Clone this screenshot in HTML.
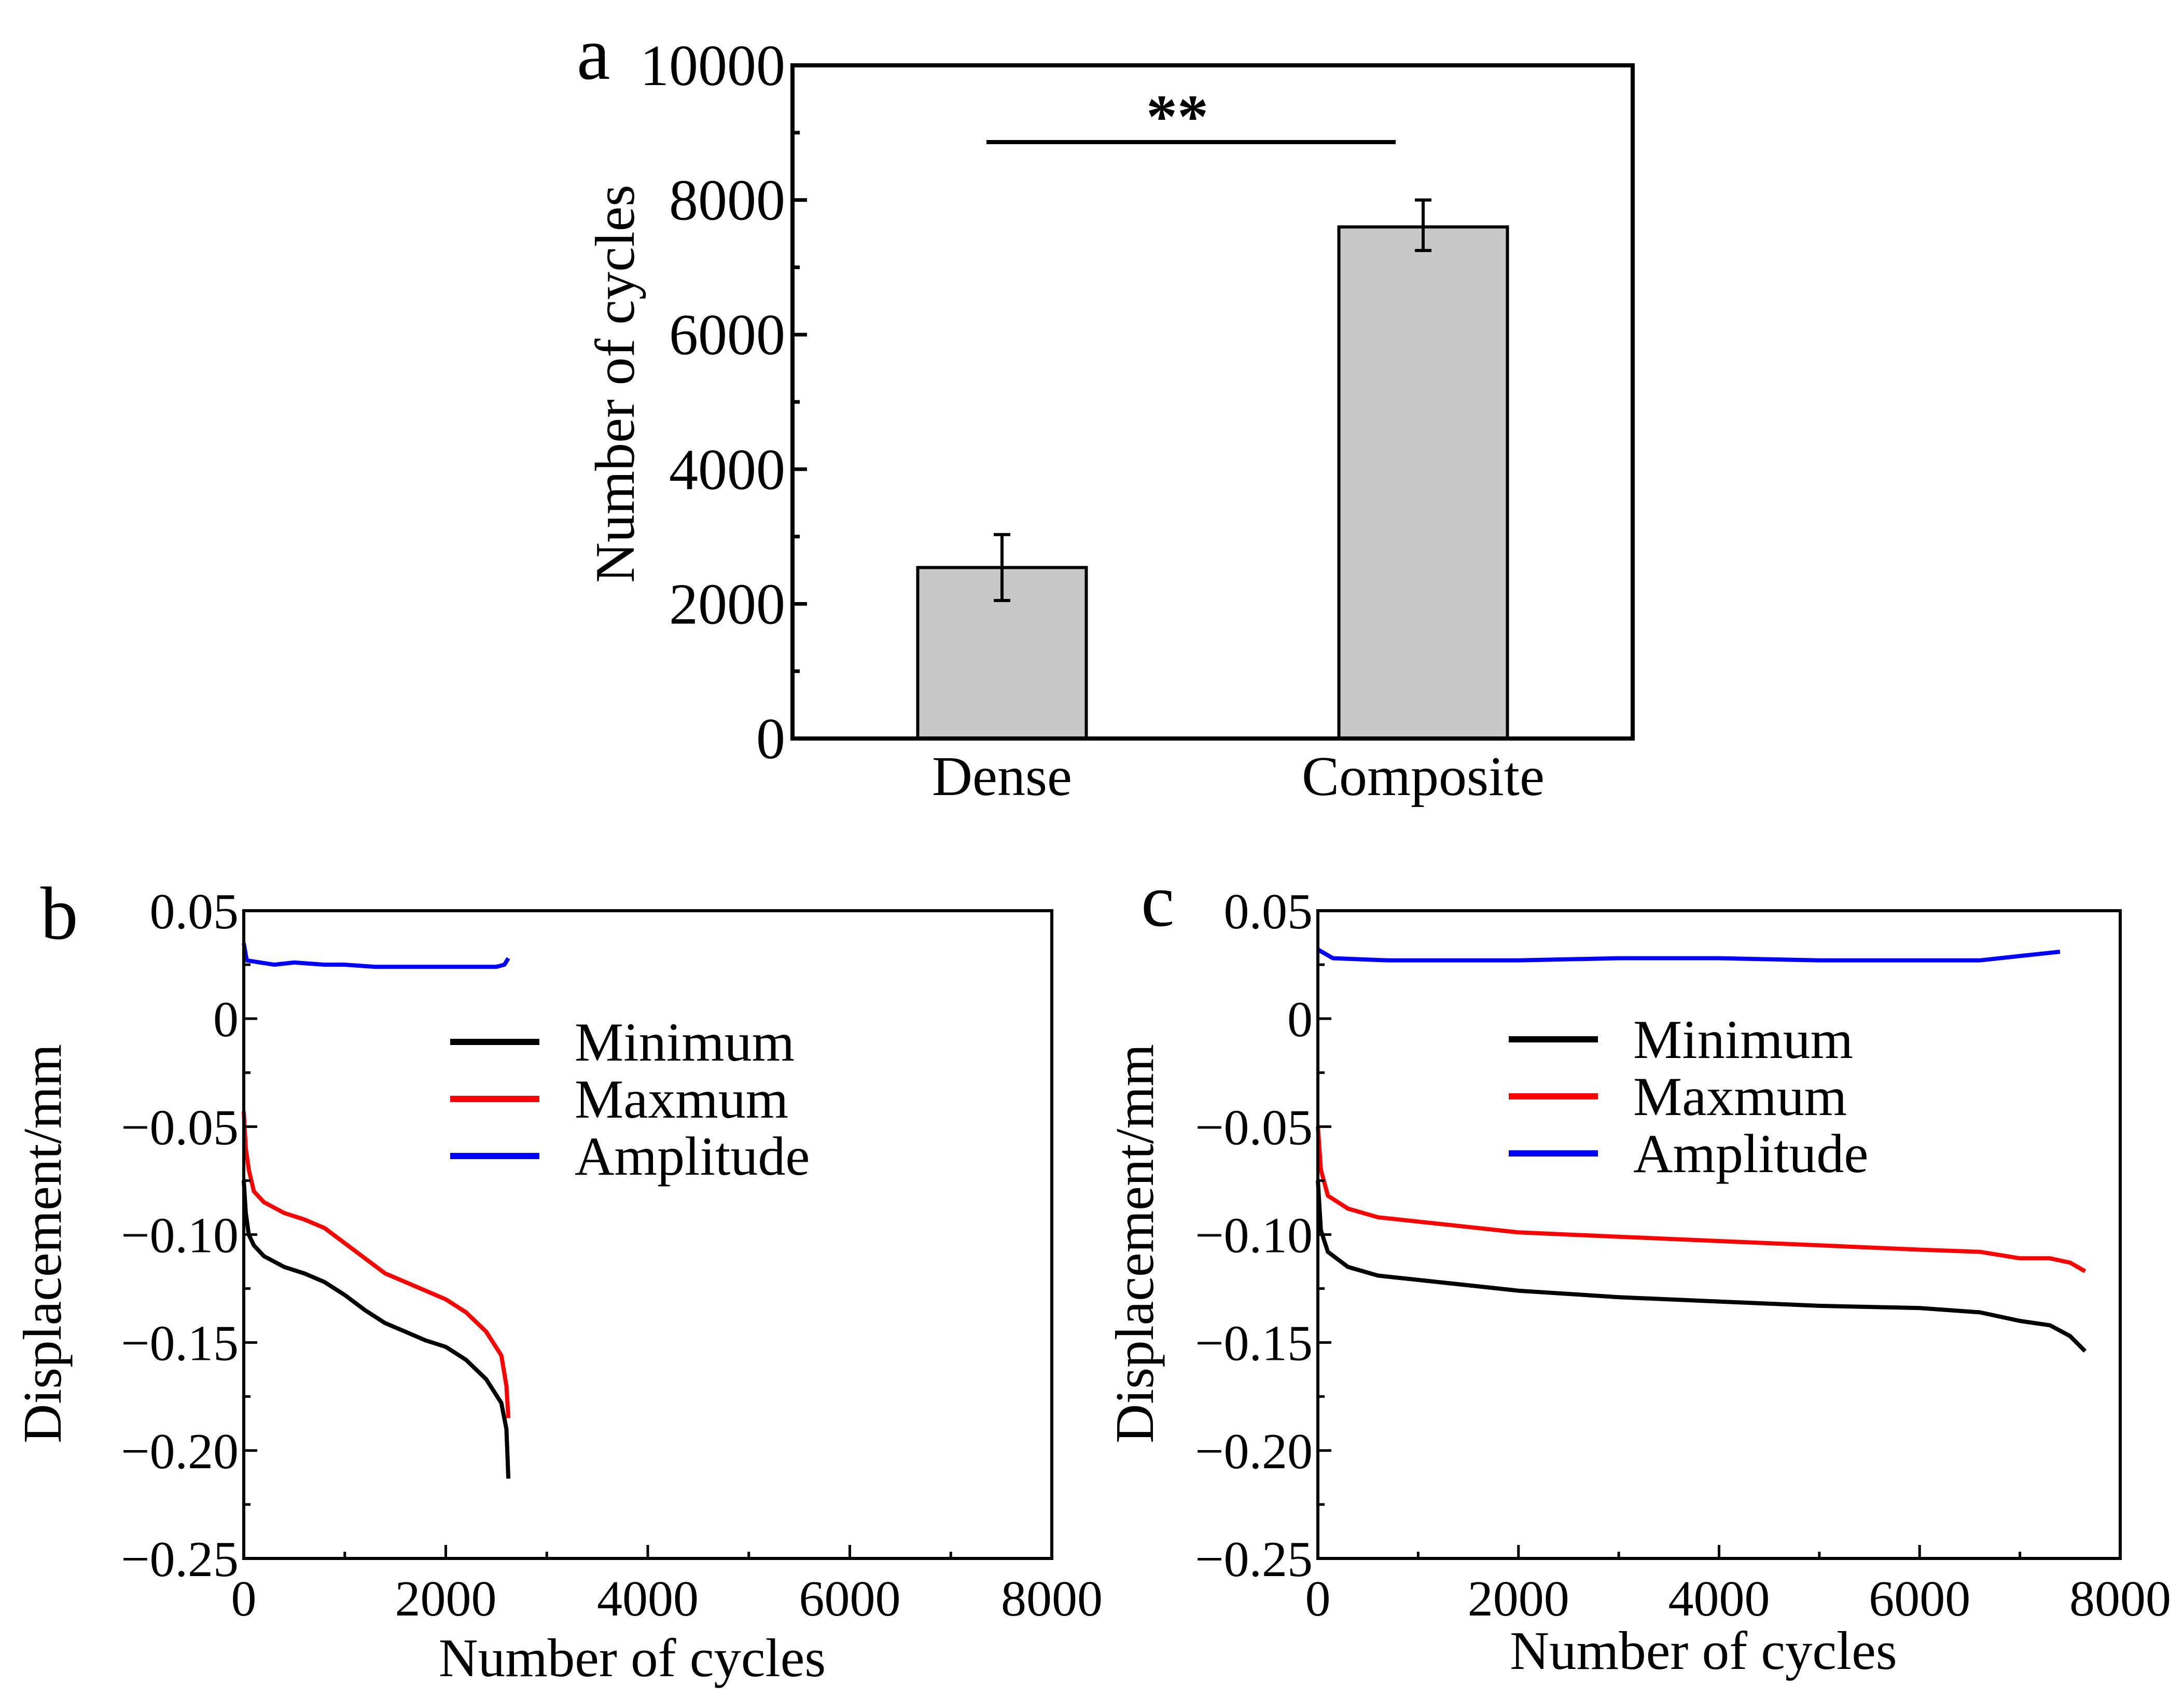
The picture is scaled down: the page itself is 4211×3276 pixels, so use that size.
<!DOCTYPE html>
<html><head><meta charset="utf-8">
<style>
html,body{margin:0;padding:0;background:#fff;}
svg{display:block;}
text{font-family:"Liberation Serif",serif;fill:#000;}
</style></head>
<body>
<svg id="fig" width="4211" height="3276" viewBox="0 0 4211 3276" xmlns="http://www.w3.org/2000/svg">
<rect width="4211" height="3276" fill="#fff"/>
<g id="pa"></g>
<g id="pb"></g>
<g id="pc"></g>
</svg>
<script>
// Panel a data
const barCategories = ["Dense", "Composite"];
const barValues = [2540, 7600];
const barErrLow = [2050, 7250];
const barErrHigh = [3030, 8000];
const aTicks = [0, 2000, 4000, 6000, 8000, 10000];

// Panel b data (cycles, displacement)
const bMinX = [0, 20, 50, 100, 200, 400, 600, 800, 1000, 1200, 1400, 1600, 1800, 2000, 2200, 2400, 2550, 2600, 2620];
const bMinY = [-0.075, -0.09, -0.1, -0.105, -0.11, -0.115, -0.118, -0.122, -0.128, -0.135, -0.141, -0.145, -0.149, -0.152, -0.158, -0.167, -0.178, -0.19, -0.213];
const bMaxX = [0, 20, 50, 100, 200, 400, 600, 800, 1000, 1200, 1400, 1600, 1800, 2000, 2200, 2400, 2550, 2600, 2620];
const bMaxY = [-0.043, -0.06, -0.07, -0.08, -0.085, -0.09, -0.093, -0.097, -0.104, -0.111, -0.118, -0.122, -0.126, -0.13, -0.136, -0.145, -0.156, -0.17, -0.185];
const bAmpX = [0, 30, 300, 500, 800, 1000, 1300, 1500, 2000, 2300, 2500, 2580, 2620];
const bAmpY = [0.035, 0.027, 0.025, 0.026, 0.025, 0.025, 0.024, 0.024, 0.024, 0.024, 0.024, 0.025, 0.028];

// Panel c data
const cMinX = [0, 30, 100, 300, 600, 1000, 2000, 3000, 4000, 5000, 6000, 6600, 7000, 7300, 7500, 7650];
const cMinY = [-0.075, -0.098, -0.108, -0.115, -0.119, -0.121, -0.126, -0.129, -0.131, -0.133, -0.134, -0.136, -0.14, -0.142, -0.147, -0.154];
const cMaxX = [0, 30, 100, 300, 600, 1000, 2000, 3000, 4000, 5000, 6000, 6600, 7000, 7300, 7500, 7650];
const cMaxY = [-0.05, -0.07, -0.082, -0.088, -0.092, -0.094, -0.099, -0.101, -0.103, -0.105, -0.107, -0.108, -0.111, -0.111, -0.113, -0.117];
const cAmpX = [0, 150, 700, 1000, 2000, 3000, 4000, 5000, 6000, 6600, 7000, 7400];
const cAmpY = [0.032, 0.028, 0.027, 0.027, 0.027, 0.028, 0.028, 0.027, 0.027, 0.027, 0.029, 0.031];

const xTicks = [0, 2000, 4000, 6000, 8000];
const yTicks = [0.05, 0, -0.05, -0.10, -0.15, -0.20, -0.25];
const yTickLabels = ["0.05", "0", "\u22120.05", "\u22120.10", "\u22120.15", "\u22120.20", "\u22120.25"];
const legendNames = ["Minimum", "Maxmum", "Amplitude"];
const legendColors = ["#000", "#f00", "#00f"];

const NS = "http://www.w3.org/2000/svg";
function mk(parent, tag, attrs, txt){
  const e = document.createElementNS(NS, tag);
  for (const k in attrs) e.setAttribute(k, attrs[k]);
  if (txt !== undefined) e.textContent = txt;
  parent.appendChild(e);
  return e;
}

// ---------- Panel a ----------
(function(){
  const g = document.getElementById('pa');
  const L=1528, R=3148, T=126, B=1424;
  const y = v => B - (v/10000)*(B-T);
  const cx = [1932, 2744];
  const bw = 325;
  for (let i=0;i<barValues.length;i++){
    const r = mk(g,'rect',{x:cx[i]-bw/2,y:y(barValues[i]),width:bw,height:B-y(barValues[i]),fill:'#c8c8c8',stroke:'#000','stroke-width':6});
    
    
    const e = mk(g,'path',{d:`M${cx[i]} ${y(barErrLow[i])}V${y(barErrHigh[i])}M${cx[i]-16} ${y(barErrLow[i])}h32M${cx[i]-16} ${y(barErrHigh[i])}h32`,stroke:'#000','stroke-width':6,fill:'none'});
    
    
    const t = mk(g,'text',{x:cx[i],y:1533,'font-size':108,'text-anchor':'middle'},barCategories[i]);
    
    
  }
  const box = mk(g,'rect',{x:L,y:T,width:R-L,height:B-T,fill:'none',stroke:'#000','stroke-width':8});
  
  
  for (let v=1000; v<10000; v+=1000){
    const major = v%2000===0;
    mk(g,'line',{x1:L,x2:L+(major?28:14),y1:y(v),y2:y(v),stroke:'#000','stroke-width':7});
  }
  aTicks.forEach(v=>{
    const t = mk(g,'text',{x:L-14,y:y(v)+38,'font-size':112,'text-anchor':'end'},String(v));
    
    
  });
  const yt = mk(g,'text',{x:0,y:0,'font-size':108,'text-anchor':'middle',transform:'translate(1222,740) rotate(-90)'},'Number of cycles');
  
  
  const sig = mk(g,'line',{x1:1902,x2:2691,y1:274,y2:274,stroke:'#000','stroke-width':8});
  
  
  const st = mk(g,'text',{x:2270,y:265,'font-size':120,'font-weight':'bold','text-anchor':'middle'},'**');
  
  
  const lab = mk(g,'text',{x:1112,y:152,'font-size':145},'a');
  
  
})();

// ---------- Panels b, c ----------
function linePanel(id, L, R, T, B, letter, series, legX, legY, titleY, labX, labY, ytX){
  const g = document.getElementById(id);
  const x = v => L + (v/8000)*(R-L);
  const y = v => T + ((0.05 - v)/0.30)*(B-T);
  series.forEach((s,i)=>{
    let d = '';
    for (let k=0;k<s.xs.length;k++) d += (k?'L':'M') + x(s.xs[k]).toFixed(1) + ' ' + y(s.ys[k]).toFixed(1);
    const p = mk(g,'path',{d:d,fill:'none',stroke:legendColors[i],'stroke-width':8,'stroke-linejoin':'round'});
    
    
  });
  const box = mk(g,'rect',{x:L,y:T,width:R-L,height:B-T,fill:'none',stroke:'#000','stroke-width':6});
  
  
  for (let v=1000; v<8000; v+=1000){
    const major = v%2000===0;
    mk(g,'line',{x1:x(v),x2:x(v),y1:B,y2:B-(major?26:13),stroke:'#000','stroke-width':5});
  }
  for (let k=0;k<12;k++){
    const v = 0.025 - k*0.025;
    const major = k%2===1;
    mk(g,'line',{x1:L,x2:L+(major?26:13),y1:y(v),y2:y(v),stroke:'#000','stroke-width':5});
  }
  yTicks.forEach((v,i)=>{
    const t = mk(g,'text',{x:L-10,y:y(v)+34,'font-size':98,'text-anchor':'end'},yTickLabels[i]);
    
    
  });
  xTicks.forEach(v=>{
    const t = mk(g,'text',{x:x(v),y:B+110,'font-size':98,'text-anchor':'middle'},String(v));
    
    
  });
  const xt = mk(g,'text',{x:(L+R)/2 - 30,y:titleY,'font-size':105,'text-anchor':'middle'},'Number of cycles');
  
  
  const yt = mk(g,'text',{x:0,y:0,'font-size':105,'text-anchor':'middle',transform:`translate(${ytX},${2398}) rotate(-90)`},'Displacement/mm');
  
  
  legendNames.forEach((n,i)=>{
    const ly = legY + i*110;
    const ln = mk(g,'line',{x1:legX,x2:legX+172,y1:ly,y2:ly,stroke:legendColors[i],'stroke-width':12});
    
    
    const t = mk(g,'text',{x:legX+240,y:ly+36,'font-size':106},n);
    
    
  });
  const lab = mk(g,'text',{x:labX,y:labY,'font-size':145},letter);
  
  
}
linePanel('pb', 470, 2028, 1756, 3005, 'b',
  [{xs:bMinX,ys:bMinY},{xs:bMaxX,ys:bMaxY},{xs:bAmpX,ys:bAmpY}],
  868, 2009, 3232, 78, 1810, 117);
linePanel('pc', 2541, 4088, 1756, 3005, 'c',
  [{xs:cMinX,ys:cMinY},{xs:cMaxX,ys:cMaxY},{xs:cAmpX,ys:cAmpY}],
  2909, 2004, 3218, 2200, 1785, 2223);
</script>
</body></html>
